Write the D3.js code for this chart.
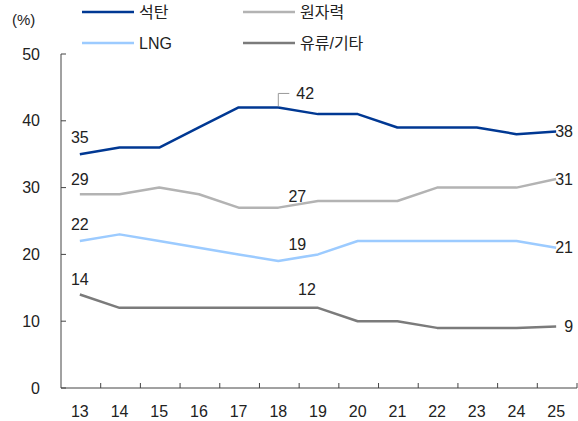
<!DOCTYPE html>
<html>
<head>
<meta charset="utf-8">
<script src="https://cdn.jsdelivr.net/npm/d3@7"></script>
<style>
  body { margin: 0; background: #fff; }
  text { font-family: "Liberation Sans", Arial, "Noto Sans CJK KR", sans-serif; fill: #222; }
</style>
</head>
<body>
<svg id="chart" width="578" height="421"></svg>
<script>
const years = ["13","14","15","16","17","18","19","20","21","22","23","24","25"];
const coal    = [35, 36, 36, 39, 42, 42, 41, 41, 39, 39, 39, 38, 38.4];
const nuclear = [29, 29, 30, 29, 27, 27, 28, 28, 28, 30, 30, 30, 31.3];
const lng     = [22, 23, 22, 21, 20, 19, 20, 22, 22, 22, 22, 22, 21];
const oil     = [14, 12, 12, 12, 12, 12, 12, 10, 10, 9, 9, 9, 9.2];
const yTicks  = [0, 10, 20, 30, 40, 50];

const series = [
  { name: "석탄",     values: coal,    color: "#003893" },
  { name: "원자력",   values: nuclear, color: "#b3b3b3" },
  { name: "LNG",      values: lng,     color: "#9ccbff" },
  { name: "유류/기타", values: oil,     color: "#7b7b7b" }
];

// value labels: series index, point index, label dx/dy from the point
const labels = [
  [0, 0, 0, -17], [1, 0, 0, -15], [2, 0, 0, -17], [3, 0, 0, -15],
  [1, 5, 19, -11], [2, 5, 19, -17], [3, 6, -11, -18],
  [0, 12, -1, 0], [1, 12, -1, 0], [2, 12, -1, 0], [3, 12, 8, 0]
];

const svg = d3.select("#chart");
const x = d3.scaleBand().domain(years).range([61, 577]);
const y = d3.scaleLinear().domain([0, 50]).range([388, 54]);
const cx = (i) => x(years[i]) + x.bandwidth() / 2 - 1;

// y axis
svg.append("line").attr("x1", 61).attr("x2", 61).attr("y1", y(50)).attr("y2", y(0))
  .attr("stroke", "#444").attr("stroke-width", 1);
yTicks.forEach((t) => {
  svg.append("line").attr("x1", 61).attr("x2", 66).attr("y1", y(t)).attr("y2", y(t))
    .attr("stroke", "#444");
  svg.append("text").attr("x", 40).attr("y", y(t)).attr("dy", "0.35em")
    .attr("text-anchor", "end").attr("font-size", 16).text(t);
});

// x axis
svg.append("line").attr("x1", 61).attr("x2", 577).attr("y1", y(0)).attr("y2", y(0))
  .attr("stroke", "#444");
years.forEach((yr, i) => {
  const bx = x(yr) + x.bandwidth();
  svg.append("line").attr("x1", bx).attr("x2", bx).attr("y1", y(0)).attr("y2", y(0) - 5)
    .attr("stroke", "#444");
  svg.append("text").attr("x", cx(i)).attr("y", 411).attr("dy", "0.35em")
    .attr("text-anchor", "middle").attr("font-size", 16).text(yr);
});

svg.append("text").attr("x", 12).attr("y", 20).attr("dy", "0.35em")
  .attr("font-size", 15).text("(%)");

// lines
const line = d3.line().x((d, i) => cx(i)).y((d) => y(d));
series.forEach((s) => {
  svg.append("path").attr("d", line(s.values)).attr("fill", "none")
    .attr("stroke", s.color).attr("stroke-width", 2.5).attr("stroke-linejoin", "round");
});

// leader for 42
const lx = cx(5), ly = y(coal[5]);
svg.append("path").attr("d", `M${lx} ${ly - 1} L${lx} ${ly - 14} L${lx + 11} ${ly - 14}`)
  .attr("fill", "none").attr("stroke", "#999").attr("stroke-width", 1);
svg.append("text").attr("x", lx + 18).attr("y", ly - 14).attr("dy", "0.35em")
  .attr("font-size", 16).text("42");

labels.forEach(([si, pi, dx, dy]) => {
  const v = series[si].values[pi];
  svg.append("text").attr("x", cx(pi) + dx).attr("y", y(v) + dy).attr("dy", "0.35em")
    .attr("text-anchor", pi === 12 ? "start" : "middle").attr("font-size", 16)
    .text(Math.round(v));
});

// legend
const legPos = [[82, 12], [243, 12], [82, 43], [243, 43]];
series.forEach((s, i) => {
  const [lxp, lyp] = legPos[i];
  svg.append("line").attr("x1", lxp).attr("x2", lxp + 52).attr("y1", lyp).attr("y2", lyp)
    .attr("stroke", s.color).attr("stroke-width", 2.5);
  svg.append("text").attr("x", lxp + 57).attr("y", lyp).attr("dy", "0.35em")
    .attr("font-size", 16).text(s.name);
});
</script>
</body>
</html>
